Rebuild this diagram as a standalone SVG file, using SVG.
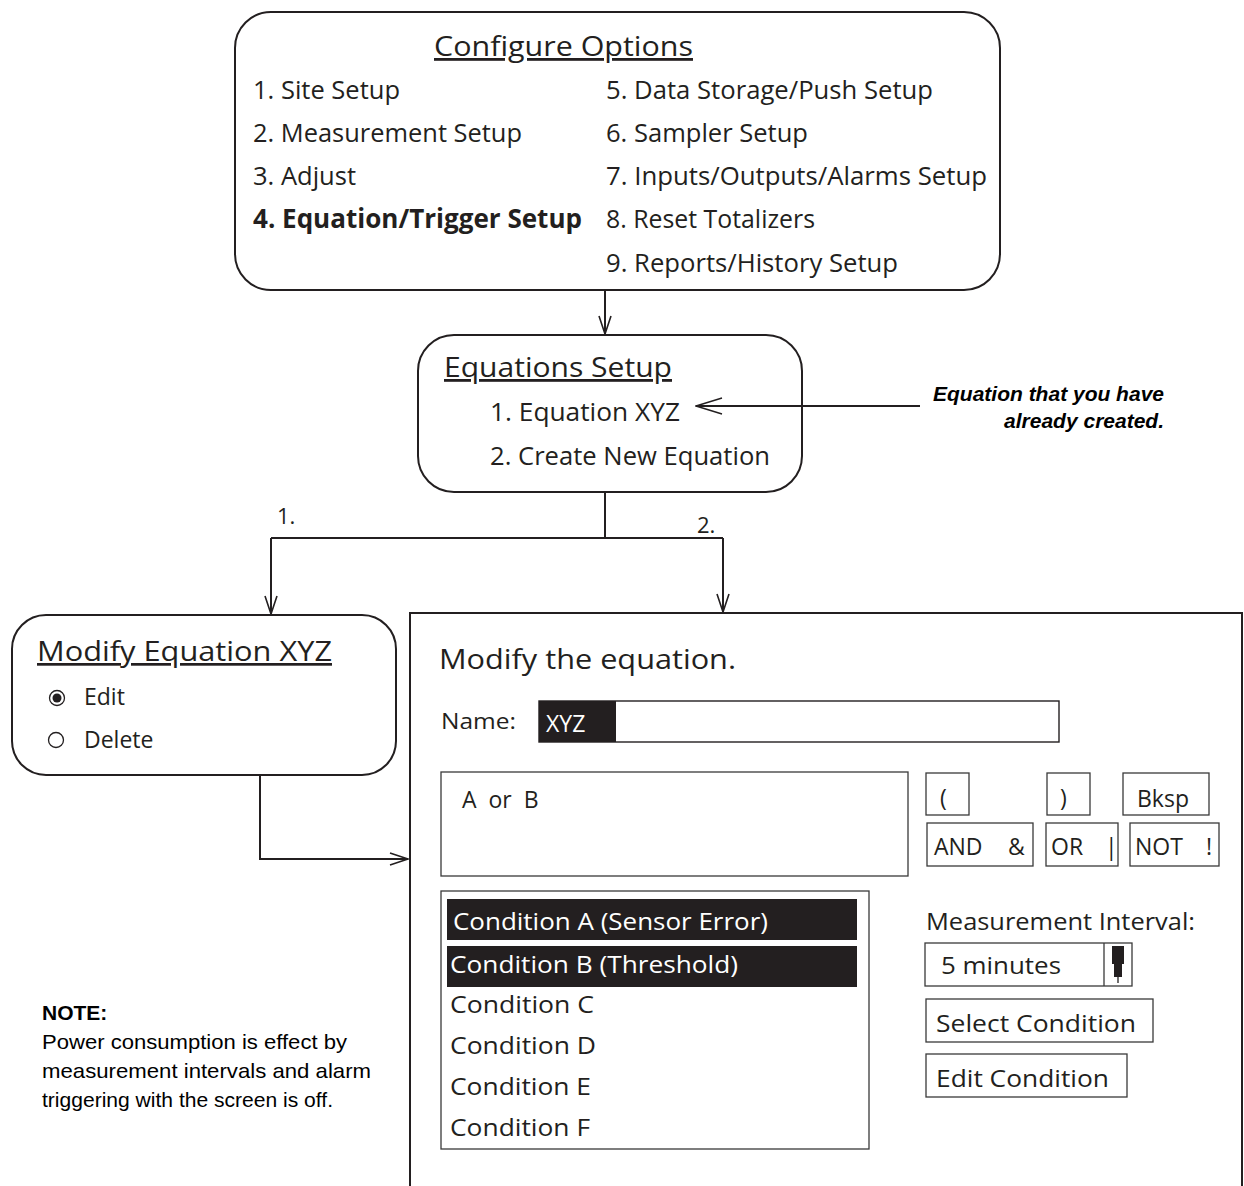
<svg xmlns="http://www.w3.org/2000/svg" width="1244" height="1186" viewBox="0 0 1244 1186">
<style>
.t{font-family:"Open Sans","Noto Sans","Liberation Sans",sans-serif;fill:#231f20}
.m{font-size:26px}
.h{font-size:28px;text-decoration:underline}
.s{font-size:23px}
.w{fill:#ffffff}
.box{fill:#ffffff;stroke:#231f20;stroke-width:2}
.thin{fill:#ffffff;stroke:#3a3a3a;stroke-width:1.3}
.ln{fill:none;stroke:#231f20;stroke-width:2}
.a{font-family:"Liberation Sans",Arial,sans-serif;fill:#000000;font-size:21px}
</style>
<defs>
<marker id="arr" markerUnits="userSpaceOnUse" viewBox="0 0 20 14" refX="19" refY="7" markerWidth="20" markerHeight="14" orient="auto">
<path d="M1,1 L19,7 L1,13" fill="none" stroke="#231f20" stroke-width="1.6"/>
</marker>
<marker id="arrL" markerUnits="userSpaceOnUse" viewBox="0 0 28 18" refX="27" refY="9" markerWidth="28" markerHeight="18" orient="auto">
<path d="M1,1 L27,9 L1,17" fill="none" stroke="#231f20" stroke-width="1.4"/>
</marker>
</defs>
<rect width="1244" height="1186" fill="#ffffff"/>

<g id="configure-options">
<rect class="box" x="235" y="12" width="765" height="278" rx="36" ry="36"/>
<text class="t h" x="434" y="56" textLength="259" lengthAdjust="spacingAndGlyphs">Configure Options</text>
<text class="t m" x="253" y="99" textLength="147" lengthAdjust="spacingAndGlyphs">1. Site Setup</text>
<text class="t m" x="253" y="142" textLength="269" lengthAdjust="spacingAndGlyphs">2. Measurement Setup</text>
<text class="t m" x="253" y="185" textLength="103" lengthAdjust="spacingAndGlyphs">3. Adjust</text>
<text class="t m" x="253" y="228" font-weight="bold" textLength="329" lengthAdjust="spacingAndGlyphs">4. Equation/Trigger Setup</text>
<text class="t m" x="606" y="99" textLength="327" lengthAdjust="spacingAndGlyphs">5. Data Storage/Push Setup</text>
<text class="t m" x="606" y="142" textLength="202" lengthAdjust="spacingAndGlyphs">6. Sampler Setup</text>
<text class="t m" x="606" y="185" textLength="381" lengthAdjust="spacingAndGlyphs">7. Inputs/Outputs/Alarms Setup</text>
<text class="t m" x="606" y="228" textLength="209" lengthAdjust="spacingAndGlyphs">8. Reset Totalizers</text>
<text class="t m" x="606" y="272" textLength="292" lengthAdjust="spacingAndGlyphs">9. Reports/History Setup</text>
</g>

<g id="equations-setup">
<rect class="box" x="418" y="335" width="384" height="157" rx="36" ry="36"/>
<text class="t h" x="444" y="377" textLength="228" lengthAdjust="spacingAndGlyphs">Equations Setup</text>
<text class="t m" x="490" y="421" textLength="190" lengthAdjust="spacingAndGlyphs">1. Equation XYZ</text>
<text class="t m" x="490" y="465" textLength="280" lengthAdjust="spacingAndGlyphs">2. Create New Equation</text>
</g>

<g id="annotation">
<text class="a" x="1164" y="401" text-anchor="end" font-weight="bold" font-style="italic" font-size="17">Equation that you have</text>
<text class="a" x="1164" y="428" text-anchor="end" font-weight="bold" font-style="italic" font-size="17">already created.</text>
</g>

<g id="modify-equation-xyz">
<rect class="box" x="12" y="615" width="384" height="160" rx="34" ry="34"/>
<text class="t" x="37" y="661" font-size="27" text-decoration="underline" textLength="295" lengthAdjust="spacingAndGlyphs">Modify Equation XYZ</text>
<circle cx="57" cy="698" r="7.5" fill="#ffffff" stroke="#231f20" stroke-width="1.3"/>
<circle cx="57" cy="698" r="4.5" fill="#231f20"/>
<text class="t s" x="84" y="705">Edit</text>
<circle cx="56" cy="740" r="7.5" fill="#ffffff" stroke="#231f20" stroke-width="1.3"/>
<text class="t s" x="84" y="748">Delete</text>
</g>

<g id="modify-panel">
<path class="ln" d="M410,1186 V613 H1242 V1186"/>
<text class="t" x="439" y="669" font-size="28" textLength="297" lengthAdjust="spacingAndGlyphs">Modify the equation.</text>
<text class="t" x="441" y="729" font-size="22" textLength="75" lengthAdjust="spacingAndGlyphs">Name:</text>
<rect x="539" y="701" width="520" height="41" fill="#ffffff" stroke="#231f20" stroke-width="1.4"/>
<rect x="539" y="701" width="77" height="41" fill="#231f20"/>
<text class="t w" x="546" y="732" font-size="23">XYZ</text>

<rect class="thin" x="441" y="772" width="467" height="104"/>
<text class="t s" x="462" y="808" xml:space="preserve">A  or  B</text>

<rect class="thin" x="926" y="773" width="43" height="42"/>
<text class="t s" x="940" y="806">(</text>
<rect class="thin" x="1047" y="773" width="43" height="42"/>
<text class="t s" x="1060" y="806">)</text>
<rect class="thin" x="1123" y="773" width="86" height="42"/>
<text class="t s" x="1137" y="807">Bksp</text>

<rect class="thin" x="927" y="823" width="106" height="43"/>
<text class="t s" x="934" y="855">AND</text>
<text class="t s" x="1008" y="855">&amp;</text>
<rect class="thin" x="1046" y="823" width="72" height="43"/>
<text class="t s" x="1051" y="855">OR</text>
<text class="t s" x="1105" y="855">|</text>
<rect class="thin" x="1130" y="823" width="89" height="43"/>
<text class="t s" x="1135" y="855">NOT</text>
<text class="t s" x="1206" y="855">!</text>

<rect class="thin" x="441" y="891" width="428" height="258"/>
<rect x="447" y="899" width="410" height="41" fill="#231f20"/>
<text class="t w" x="453" y="930" font-size="24" textLength="315" lengthAdjust="spacingAndGlyphs">Condition A (Sensor Error)</text>
<rect x="447" y="946" width="410" height="41" fill="#231f20"/>
<text class="t w" x="450" y="973" font-size="24" textLength="288" lengthAdjust="spacingAndGlyphs">Condition B (Threshold)</text>
<text class="t" x="450" y="1013" font-size="24" textLength="144" lengthAdjust="spacingAndGlyphs">Condition C</text>
<text class="t" x="450" y="1054" font-size="24" textLength="146" lengthAdjust="spacingAndGlyphs">Condition D</text>
<text class="t" x="450" y="1095" font-size="24" textLength="141" lengthAdjust="spacingAndGlyphs">Condition E</text>
<text class="t" x="450" y="1136" font-size="24" textLength="140" lengthAdjust="spacingAndGlyphs">Condition F</text>

<text class="t s" x="926" y="930" textLength="269" lengthAdjust="spacingAndGlyphs">Measurement Interval:</text>
<rect class="thin" x="925" y="943" width="207" height="43"/>
<line x1="1104" y1="943" x2="1104" y2="986" stroke="#3a3a3a" stroke-width="1.3"/>
<text class="t s" x="941" y="974" textLength="120" lengthAdjust="spacingAndGlyphs">5 minutes</text>
<rect x="1112" y="946" width="12" height="18" fill="#231f20"/>
<rect x="1114" y="963" width="8" height="14" fill="#231f20"/>
<line x1="1118" y1="976" x2="1118" y2="983" stroke="#231f20" stroke-width="1.3"/>

<rect class="thin" x="926" y="999" width="227" height="43"/>
<text class="t s" x="936" y="1032" textLength="200" lengthAdjust="spacingAndGlyphs">Select Condition</text>
<rect class="thin" x="926" y="1054" width="201" height="43"/>
<text class="t s" x="936" y="1087" textLength="173" lengthAdjust="spacingAndGlyphs">Edit Condition</text>
</g>

<g id="note">
<text class="a" x="42" y="1020" font-weight="bold">NOTE:</text>
<text class="a" x="42" y="1049" textLength="305" lengthAdjust="spacingAndGlyphs">Power consumption is effect by</text>
<text class="a" x="42" y="1078" textLength="329" lengthAdjust="spacingAndGlyphs">measurement intervals and alarm</text>
<text class="a" x="42" y="1107" textLength="291" lengthAdjust="spacingAndGlyphs">triggering with the screen is off.</text>
</g>

<g id="connectors">
<line class="ln" x1="605" y1="290" x2="605" y2="334" marker-end="url(#arr)"/>
<line class="ln" x1="920" y1="406" x2="696" y2="406" marker-end="url(#arrL)"/>
<path class="ln" d="M605,492 V538"/>
<path class="ln" d="M271,538 H723"/>
<path class="ln" d="M271,538 V614" marker-end="url(#arr)"/>
<path class="ln" d="M723,538 V612" marker-end="url(#arr)"/>
<path class="ln" d="M260,776 V859 H408" marker-end="url(#arr)"/>
<text class="t" x="277" y="524" font-size="22">1.</text>
<text class="t" x="697" y="533" font-size="22">2.</text>
</g>
</svg>
